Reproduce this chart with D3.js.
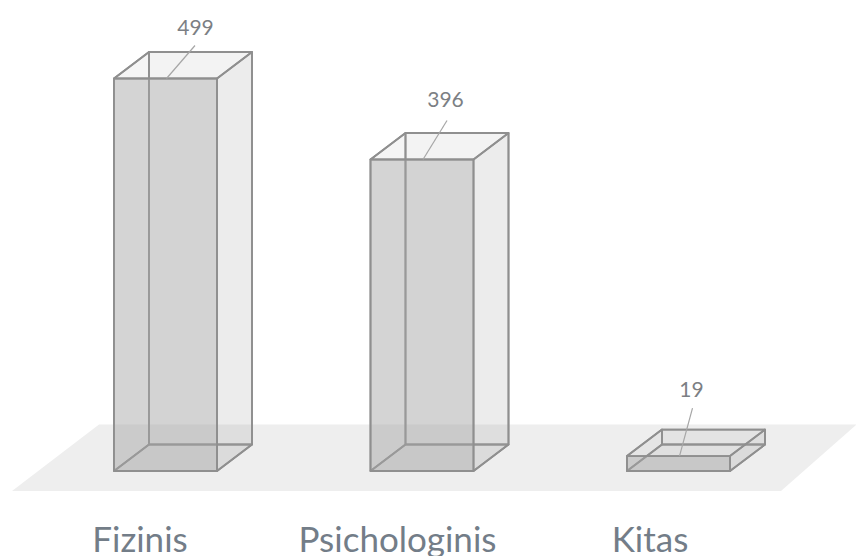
<!DOCTYPE html>
<html><head><meta charset="utf-8">
<script src="https://cdn.jsdelivr.net/npm/d3@7/dist/d3.min.js"></script>
<style>html,body{margin:0;padding:0;background:#fff;overflow:hidden}svg{display:block}text{font-family:Lato,"Open Sans",sans-serif}</style>
</head><body><svg id="c" width="856" height="556"></svg>
<script>
const categories = ["Fizinis","Psichologinis","Kitas"];
const values = [499,396,19];
const leaderOffsets = [[28.5,-33],[24,-39],[13,-48]];
const textOffsets = [[29,-51],[22.5,-60],[12,-66]];
const labelCenters = [140,397.5,650];

const W=856,H=556,base=471,dx=35,dy=-26.5;
const svg=d3.select("#c");
const x=d3.scaleBand().domain(categories).range([114,730]).paddingInner(0.5984).paddingOuter(0).align(0);
const y=d3.scaleLinear().domain([0,499]).range([base,78.5]);
const bw=x.bandwidth();
const pts=p=>p.map(q=>q.join(",")).join(" ");
const edge="#8f8f8f";

svg.append("polygon").attr("points",pts([[12,491],[99,424.5],[856,424.5],[856,425],[781,491]])).attr("fill","#eeeeee");

const faces=svg.selectAll("g.bar").data(categories.map((c,i)=>({c,v:values[i],i}))).join("g").attr("class","bar");
faces.each(function(d){
  const g=d3.select(this),l=x(d.c),r=l+bw,t=y(d.v);
  const poly=(p,fill,op)=>g.append("polygon").attr("points",pts(p)).attr("fill",fill).attr("fill-opacity",op)
     .attr("stroke",edge).attr("stroke-width",1.8).attr("stroke-linejoin","round");
  poly([[l+dx,t+dy],[r+dx,t+dy],[r+dx,base+dy],[l+dx,base+dy]],"#a6a6a6",0.05);
  poly([[l,t],[l+dx,t+dy],[l+dx,base+dy],[l,base]],"#a6a6a6",0.03);
  poly([[l,base],[r,base],[r+dx,base+dy],[l+dx,base+dy]],"#a6a6a6",0.12);
  poly([[r,t],[r+dx,t+dy],[r+dx,base+dy],[r,base]],"#a6a6a6",0.16);
  poly([[l,t],[r,t],[r+dx,t+dy],[l+dx,t+dy]],"#a6a6a6",0.08);
  poly([[l,t],[r,t],[r,base],[l,base]],"#a6a6a6",0.46);
  const ax=l+bw/2+1, o=leaderOffsets[d.i], to=textOffsets[d.i];
  g.append("line").attr("x1",ax).attr("y1",t).attr("x2",ax+o[0]).attr("y2",t+o[1]).attr("stroke","#a6a6a6").attr("stroke-width",1.2);
  g.append("text").attr("x",ax+to[0]).attr("y",t+to[1]).attr("dy","0.35em").attr("text-anchor","middle")
    .attr("font-size",21).attr("fill","#7c7f84").text(d.v);
});

svg.selectAll("text.cat").data(categories).join("text").attr("class","cat")
  .attr("x",(d,i)=>labelCenters[i]).attr("y",552).attr("text-anchor","middle")
  .attr("font-size",35).attr("fill","#737d88").text(d=>d);
</script></body></html>
